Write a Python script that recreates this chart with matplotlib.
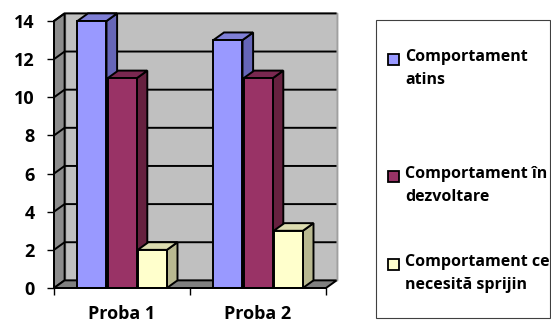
#!/usr/bin/env python3

import matplotlib
matplotlib.use('Agg')
import matplotlib.pyplot as plt
from matplotlib.patches import Polygon, Rectangle

categories = ['Proba 1', 'Proba 2']
series_names = ['Comportament\natins',
                'Comportament în\ndezvoltare',
                'Comportament ce\nnecesită sprijin']
series_values = [
    [14, 13],
    [11, 11],
    [2, 3],
]
yticks = [0, 2, 4, 6, 8, 10, 12, 14]

front_colors = ['#9999ff', '#993366', '#ffffcc']
side_colors = ['#6666b8', '#66213f', '#b8b890']
top_colors = ['#7f7fd6', '#7a2850', '#dcdcb0']

# fake 3d depth in data units
DX = 0.078
DY = 0.40
BAR_W = 0.222
YMAX = 14

plt.rcParams['font.family'] = ['Open Sans', 'DejaVu Sans']
plt.rcParams['font.weight'] = 'bold'

fig = plt.figure(figsize=(5.51, 3.24), dpi=100)
W, H = 551, 324
# axes placed so x=0.5..2.5 and y=0..14 fall on the plot walls
px_x = 136.0
px_y = 19.07
left_px, right_px, top_px, bot_px = 40, 345, 6, 300
x0 = 0.5 - (54 - left_px) / px_x
x1 = 2.5 + (right_px - 326) / px_x
y0 = -(bot_px - 288) / px_y
y1 = (288 - top_px) / px_y
ax = fig.add_axes([left_px / W, 1 - bot_px / H,
                   (right_px - left_px) / W, (bot_px - top_px) / H])
ax.set_xlim(x0, x1)
ax.set_ylim(y0, y1)
ax.patch.set_visible(False)

lw = 1.4
xa, xb = 0.5, 2.5

# back wall
ax.add_patch(Polygon([(xa + DX, DY), (xb + DX, DY), (xb + DX, YMAX + DY),
                      (xa + DX, YMAX + DY)], closed=True,
                     facecolor='#c0c0c0', edgecolor='#808080', lw=1, zorder=1))
# left wall
ax.add_patch(Polygon([(xa, 0), (xa + DX, DY), (xa + DX, YMAX + DY), (xa, YMAX)],
                     closed=True, facecolor='#8c8c8c', edgecolor='black',
                     lw=lw, zorder=1))
# floor
ax.add_patch(Polygon([(xa, 0), (xb, 0), (xb + DX, DY), (xa + DX, DY)],
                     closed=True, facecolor='#808080', edgecolor='black',
                     lw=lw, zorder=1))

# gridlines on the walls
for v in yticks[1:]:
    ax.plot([xa, xa + DX, xb + DX], [v, v + DY, v + DY],
            color='black', lw=lw, zorder=2, solid_capstyle='butt')
ax.plot([xb + DX, xb + DX], [DY, YMAX + DY], color='#a0a0a0', lw=1, zorder=2)

# bars, left to right so each front covers the previous side
n = len(series_values)
offsets = [(i - (n - 1) / 2) * BAR_W for i in range(n)]
for c in range(len(categories)):
    for i in range(n):
        v = series_values[i][c]
        xl = c + 1 + offsets[i] - BAR_W / 2 + 0.005
        xr = xl + BAR_W - 0.008
        ax.add_patch(Polygon([(xr, 0), (xr + DX, DY), (xr + DX, v + DY), (xr, v)],
                             closed=True, facecolor=side_colors[i],
                             edgecolor='black', lw=lw, zorder=3))
        ax.add_patch(Polygon([(xl, v), (xr, v), (xr + DX, v + DY), (xl + DX, v + DY)],
                             closed=True, facecolor=top_colors[i],
                             edgecolor='black', lw=lw, zorder=3))
        ax.bar(xl, v, width=xr - xl, align='edge', color=front_colors[i],
               edgecolor='black', linewidth=lw, zorder=3)

# axes lines and ticks
for s in ['top', 'right']:
    ax.spines[s].set_visible(False)
ax.spines['left'].set_position(('data', xa))
ax.spines['bottom'].set_position(('data', 0))
ax.spines['left'].set_bounds(0, YMAX)
ax.spines['bottom'].set_bounds(xa, xb)
ax.spines['left'].set_linewidth(lw)
ax.spines['bottom'].set_linewidth(lw)
ax.spines['left'].set_zorder(4)
ax.spines['bottom'].set_zorder(4)

ax.set_yticks(yticks)
ax.set_yticklabels([str(t) for t in yticks], fontsize=13, fontweight='bold')
ax.tick_params(axis='y', length=5, width=1, pad=9)
ax.set_xticks([0.5, 1.5, 2.5])
ax.set_xticklabels([])
ax.tick_params(axis='x', which='major', length=5, width=1)
ax.set_xticks([1, 2], minor=True)
ax.set_xticklabels(categories, minor=True, fontsize=13, fontweight='bold')
ax.tick_params(axis='x', which='minor', length=0, pad=12)

# legend box drawn in figure pixels
fig.patches.append(Rectangle((376 / W, 1 - 318 / H), (550 - 376) / W,
                             (318 - 20) / H, transform=fig.transFigure,
                             facecolor='white', edgecolor='#404040', lw=0.8))
entry_y = [59, 176, 264]
for i, name in enumerate(series_names):
    yy = entry_y[i]
    fig.patches.append(Rectangle((387.5 / W, 1 - (yy + 6) / H), 11 / W, 11 / H,
                                 transform=fig.transFigure,
                                 facecolor=front_colors[i], edgecolor='black',
                                 lw=1.3))
    fig.text(405 / W, 1 - (yy - 10) / H, name, fontsize=11.5, fontweight='bold',
             va='top', ha='left', linespacing=1.6)

plt.savefig('out.png', dpi=100)
